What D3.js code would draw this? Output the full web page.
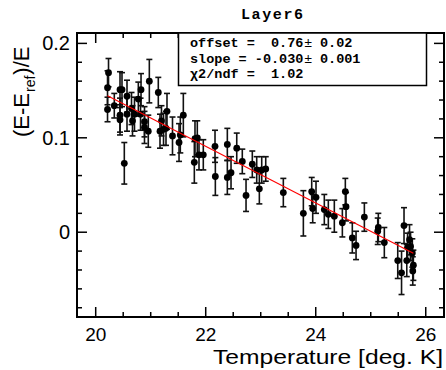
<!DOCTYPE html>
<html>
<head>
<meta charset="utf-8">
<script src="https://cdn.jsdelivr.net/npm/d3@7"></script>
<style>
  html, body { margin: 0; padding: 0; background: #fff; }
  svg { display: block; }
</style>
</head>
<body>
<svg id="chart" width="446" height="370"></svg>
<script>
// ---- data ----
const temperatures = [
  20.233, 20.215, 20.215, 20.338, 20.442, 20.478, 20.442, 20.442, 20.520, 20.569,
  20.569, 20.651, 20.669, 20.705, 20.775, 20.824, 20.815, 20.887, 20.887, 20.956,
  20.975, 21.138, 21.169, 21.196, 21.233, 21.278, 21.296, 21.396, 21.515, 21.538,
  21.593, 21.793, 21.805, 21.847, 21.878, 21.956, 22.169, 22.175, 22.393, 22.393,
  22.460, 22.564, 22.665, 22.733, 22.847, 22.927, 22.975, 23.018, 23.091, 23.411,
  23.775, 23.927, 23.945, 24.005, 24.156, 24.229, 24.338, 24.484, 24.538, 24.551,
  24.665, 24.733, 24.884, 25.138, 25.127, 25.247, 25.491, 25.560, 25.605, 25.655,
  25.669, 25.705, 25.724, 25.756, 25.775, 25.764
];
const deviations = [
  0.169, 0.153, 0.130, 0.134, 0.151, 0.151, 0.124, 0.119, 0.073, 0.144,
  0.125, 0.131, 0.118, 0.125, 0.141, 0.151, 0.125, 0.117, 0.111, 0.107,
  0.160, 0.148, 0.107, 0.118, 0.109, 0.110, 0.128, 0.102, 0.095, 0.103,
  0.124, 0.074, 0.099, 0.100, 0.082, 0.082, 0.091, 0.059, 0.093, 0.058,
  0.063, 0.089, 0.075, 0.039, 0.072, 0.066, 0.046, 0.066, 0.067, 0.042,
  0.020, 0.043, 0.025, 0.037, 0.024, 0.019, 0.017, 0.010, 0.043, 0.027,
  -0.006, -0.014, 0.016, 0.005, 0.001, -0.011, -0.030, -0.043, 0.007, -0.030,
  -0.016, -0.008, -0.015, -0.022, -0.035, -0.041
];
const errors = [
  0.015, 0.018, 0.013, 0.013, 0.019, 0.018, 0.018, 0.016, 0.022, 0.017,
  0.018, 0.017, 0.016, 0.018, 0.018, 0.017, 0.017, 0.016, 0.017, 0.017,
  0.023, 0.016, 0.018, 0.016, 0.017, 0.018, 0.019, 0.020, 0.020, 0.019,
  0.023, 0.022, 0.019, 0.018, 0.016, 0.016, 0.017, 0.020, 0.017, 0.018,
  0.017, 0.016, 0.013, 0.017, 0.014, 0.014, 0.016, 0.014, 0.013, 0.015,
  0.024, 0.015, 0.015, 0.017, 0.016, 0.015, 0.017, 0.015, 0.014, 0.015,
  0.016, 0.015, 0.015, 0.015, 0.014, 0.016, 0.019, 0.023, 0.019, 0.017,
  0.015, 0.016, 0.015, 0.015, 0.016, 0.015
];
const fitOffset = 0.751;
const fitSlope = -0.0300;
const xTicks = [20, 22, 24, 26];
const yTicks = [0, 0.1, 0.2];
const statLines = [
  ["offset =  0.76", "\u00b1", " 0.02"],
  ["slope = -0.030", "\u00b1", " 0.001"],
  ["\u03c72/ndf =  1.02", "", ""]
];
const titleText = "Layer6";
const xTitle = "Temperature [deg. K]";

// ---- layout ----
const svg = d3.select("#chart");
const L = 77, R = 445, T = 33, B = 317;
const x = d3.scaleLinear().domain([19.66, 26.35]).range([L, R]);
const y = d3.scaleLinear().domain([-0.0898, 0.211]).range([B, T]);

const pts = temperatures.map((t, i) => ({t, v: deviations[i], e: errors[i]}));

// frame
svg.append("rect").attr("x", L).attr("y", T).attr("width", R - L - 1).attr("height", B - T)
  .attr("fill", "none").attr("stroke", "#000").attr("stroke-width", 2);

// ticks
const g = svg.append("g").attr("stroke", "#000").attr("stroke-width", 1.5);
const xMinor = d3.range(20, 26.35, 0.5);
xMinor.forEach(v => {
  const major = xTicks.some(m => Math.abs(m - v) < 1e-6);
  const len = major ? 10 : 5;
  g.append("line").attr("x1", x(v)).attr("x2", x(v)).attr("y1", B).attr("y2", B - len);
  g.append("line").attr("x1", x(v)).attr("x2", x(v)).attr("y1", T).attr("y2", T + len);
});
const yMinor = d3.range(-8, 21, 2).map(k => k / 100);
yMinor.forEach(v => {
  const major = yTicks.some(m => Math.abs(m - v) < 1e-6);
  const len = major ? 10 : 5;
  g.append("line").attr("x1", L).attr("x2", L + len).attr("y1", y(v)).attr("y2", y(v));
  g.append("line").attr("x1", R - 1).attr("x2", R - 1 - len).attr("y1", y(v)).attr("y2", y(v));
});

// tick labels
const font = "'Liberation Sans', Arial, sans-serif";
svg.append("g").selectAll("text").data(xTicks).join("text")
  .attr("x", d => x(d)).attr("y", 341).attr("text-anchor", "middle")
  .attr("font-family", font).attr("font-size", 19).text(d => d);
svg.append("g").selectAll("text").data(yTicks).join("text")
  .attr("x", 70).attr("y", d => y(d) + 7).attr("text-anchor", "end")
  .attr("font-family", font).attr("font-size", 20).text(d => d3.format("")(d));

// axis titles
svg.append("text").attr("x", 443).attr("y", 364).attr("text-anchor", "end")
  .attr("font-family", font).attr("font-size", 21).attr("textLength", 230)
  .attr("lengthAdjust", "spacingAndGlyphs")
  .text(xTitle);
const yt = svg.append("text").attr("transform", "translate(28.5,137) rotate(-90)")
  .attr("font-family", font).attr("font-size", 22);
yt.append("tspan").text("(E-E");
yt.append("tspan").attr("font-size", 14).attr("dy", 6).attr("dx", 1).text("ref");
yt.append("tspan").attr("dy", -6).attr("dx", 1).text(")/E");

// title
svg.append("text").attr("x", 272).attr("y", 19).attr("text-anchor", "middle")
  .attr("font-family", "'Liberation Mono', 'Courier New', monospace").attr("font-weight", "bold")
  .attr("font-size", 15).attr("textLength", 62).text(titleText);

// error bars and markers
const eb = svg.append("g").attr("stroke", "#111").attr("stroke-width", 1.6);
pts.forEach(p => {
  const y1 = y(p.v + p.e), y2 = y(p.v - p.e), cx = x(p.t);
  eb.append("line").attr("x1", cx).attr("x2", cx).attr("y1", y1).attr("y2", y2);
  eb.append("line").attr("x1", cx - 3).attr("x2", cx + 3).attr("y1", y1).attr("y2", y1);
  eb.append("line").attr("x1", cx - 3).attr("x2", cx + 3).attr("y1", y2).attr("y2", y2);
});
svg.append("g").selectAll("circle").data(pts).join("circle")
  .attr("cx", d => x(d.t)).attr("cy", d => y(d.v)).attr("r", 3.4).attr("fill", "#000");

// fit line
const [tMin, tMax] = d3.extent(temperatures);
svg.append("line")
  .attr("x1", x(tMin)).attr("y1", y(fitOffset + fitSlope * tMin))
  .attr("x2", x(tMax)).attr("y2", y(fitOffset + fitSlope * tMax))
  .attr("stroke", "#ff0000").attr("stroke-width", 1.1);

// stat box
svg.append("rect").attr("x", 178.5).attr("y", 33).attr("width", 248).attr("height", 52.5)
  .attr("fill", "#fff").attr("stroke", "#000").attr("stroke-width", 1.5);
const baselines = [46.7, 62.5, 78.3];
statLines.forEach((ln, i) => {
  const tx = svg.append("text").attr("x", 190).attr("y", baselines[i])
    .attr("font-family", "'Liberation Mono', 'Courier New', monospace")
    .attr("font-weight", "bold").attr("font-size", 13.5).attr("xml:space", "preserve");
  tx.append("tspan").text(ln[0]);
  if (ln[1]) tx.append("tspan").attr("font-family", font).attr("font-weight", "normal")
      .attr("dx", 1).text(ln[1]);
  if (ln[2]) tx.append("tspan").text(ln[2]);
});
</script>
</body>
</html>
